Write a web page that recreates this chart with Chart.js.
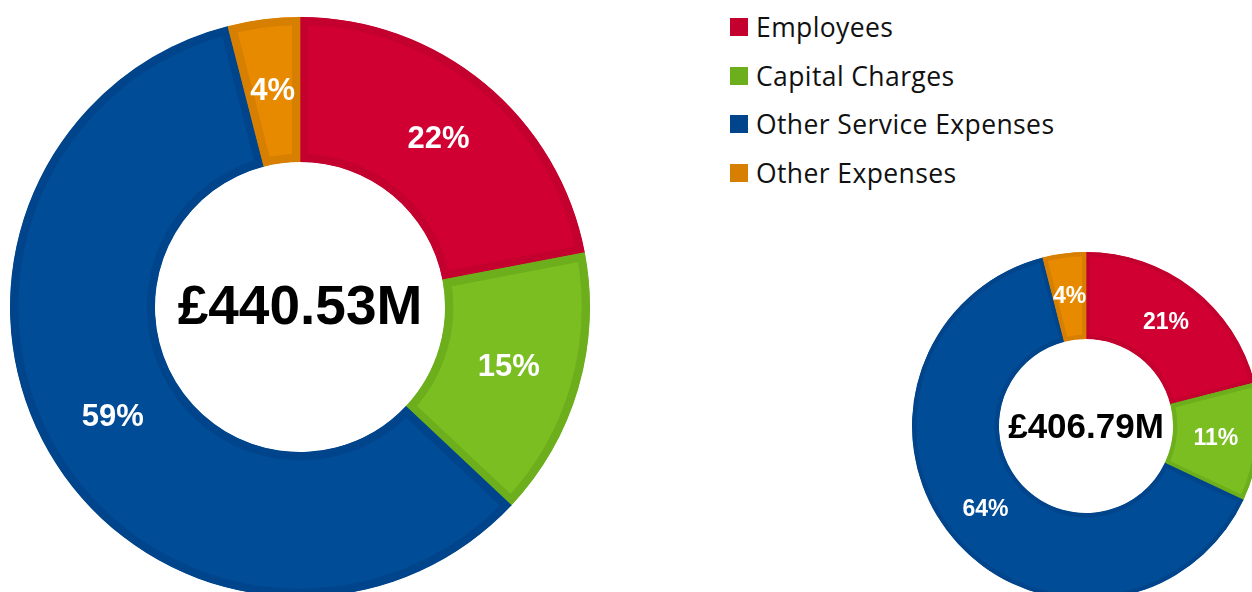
<!DOCTYPE html>
<html lang="en">
<head>
<meta charset="UTF-8">
<title>Expenditure breakdown</title>
<script src="https://cdn.jsdelivr.net/npm/chart.js"></script>
<style>
  body { margin: 0; width: 1252px; height: 592px; overflow: hidden; background: #fff; position: relative; }
  canvas { position: absolute; }
  #bigChart { left: 10px; top: 17px; }
  #smallChart { left: 912px; top: 252px; }
  /* legend on the top right */
  .legend { position: absolute; left: 730px; top: 3px; font-family: "Open Sans", sans-serif; font-size: 26.5px; letter-spacing: 0.4px; color: #111; }
  .legend-item { display: flex; align-items: center; height: 48.5px; }
  .swatch { width: 18px; height: 18px; margin-right: 8px; }
</style>
</head>
<body>
<canvas id="bigChart" width="580" height="580"></canvas>
<canvas id="smallChart" width="348" height="348"></canvas>
<div class="legend" id="legend"></div>

<script>
// Expense categories and their share of the total (%)
const categories = ["Employees", "Capital Charges", "Other Service Expenses", "Other Expenses"];
const bigValues = [22, 15, 59, 4];
const smallValues = [21, 11, 64, 4];
const bigTotal = "£440.53M";
const smallTotal = "£406.79M";

const fillColours = ["#D10032", "#7ABE22", "#004C97", "#E88A00"];
const edgeColours = ["#C3002E", "#6DAE1C", "#00458B", "#D67F00"];

// Percent labels in each slice plus the total in the hole
const sliceLabels = {
    id: "sliceLabels",
    afterDatasetsDraw(chart, args, opts) {
        const ctx = chart.ctx;
        const meta = chart.getDatasetMeta(0);
        const values = chart.data.datasets[0].data;
        ctx.save();
        ctx.textAlign = "center";
        ctx.textBaseline = "middle";
        ctx.fillStyle = "#fff";
        ctx.font = "bold " + opts.size + "px 'Liberation Sans', Arial, sans-serif";
        meta.data.forEach(function (arc, i) {
            const p = arc.getCenterPoint();
            ctx.fillText(values[i] + "%", p.x, p.y);
        });
        const c = meta.data[0];
        ctx.fillStyle = "#000";
        ctx.font = "bold " + opts.centreSize + "px 'Liberation Sans', Arial, sans-serif";
        ctx.fillText(opts.total, c.x, c.y + 2);
        ctx.restore();
    }
};

function createDoughnut(id, values, border, size, centreSize, total) {
    new Chart(document.getElementById(id), {
        type: "doughnut",
        data: {
            labels: categories,
            datasets: [{
                data: values,
                backgroundColor: fillColours,
                borderColor: edgeColours,
                borderWidth: border,
                borderAlign: "inner",
                hoverOffset: 0
            }]
        },
        options: {
            responsive: false,
            animation: false,
            events: [],
            cutout: "50%",
            plugins: {
                legend: { display: false },
                tooltip: { enabled: false },
                sliceLabels: { size: size, centreSize: centreSize, total: total }
            }
        },
        plugins: [sliceLabels]
    });
}

createDoughnut("bigChart", bigValues, 8, 31, 55, bigTotal);
createDoughnut("smallChart", smallValues, 4, 23, 35, smallTotal);

// Legend built from the same categories and colours
const legend = document.getElementById("legend");
categories.forEach(function (name, i) {
    const item = document.createElement("div");
    item.className = "legend-item";
    const sw = document.createElement("span");
    sw.className = "swatch";
    sw.style.background = edgeColours[i];
    const txt = document.createElement("span");
    txt.textContent = name;
    item.appendChild(sw);
    item.appendChild(txt);
    legend.appendChild(item);
});
</script>
</body>
</html>
